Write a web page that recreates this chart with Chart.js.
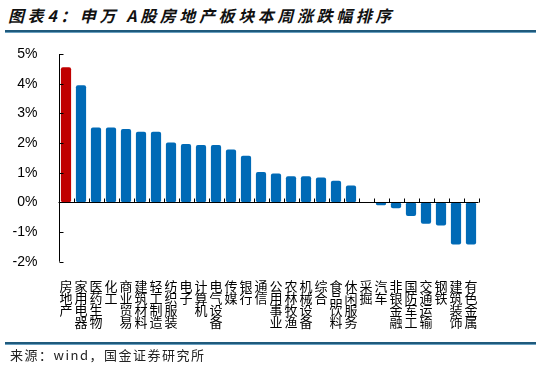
<!DOCTYPE html>
<html><head><meta charset="utf-8">
<script src="https://cdn.jsdelivr.net/npm/chart.js@4/dist/chart.umd.min.js"></script>
<style>
html,body{margin:0;padding:0;background:#fff;width:541px;height:372px;overflow:hidden;}
#wrap{position:relative;width:541px;height:372px;}
canvas{position:absolute;left:0;top:0;}
#title{position:absolute;left:8px;top:3px;font-family:"Noto Sans CJK SC";font-weight:bold;font-style:italic;font-size:16px;letter-spacing:3.6px;color:#111;white-space:nowrap;}
.rule{position:absolute;left:5px;width:531px;height:2px;background:#1f5a7c;border-bottom:1px solid #6aa0c0;}
#source{position:absolute;left:10px;top:345px;font-family:"Noto Sans CJK SC";font-size:13px;letter-spacing:1.5px;color:#222;white-space:nowrap;}
</style></head>
<body><div id="wrap">
<div id="title">图表4：申万 A股房地产板块本周涨跌幅排序</div>
<div class="rule" style="top:30px"></div>
<canvas id="c" width="541" height="372"></canvas>
<div class="rule" style="top:342px"></div>
<div id="source">来源：wind，国金证券研究所</div>
</div>
<script>
const categories = ["房地产","家用电器","医药生物","化工","商业贸易","建筑材料","轻工制造","纺织服装","电子","计算机","电气设备","传媒","银行","通信","公用事业","农林牧渔","机械设备","综合","食品饮料","休闲服务","采掘","汽车","非银金融","国防军工","交通运输","钢铁","建筑装饰","有色金属"];
const weeklyChange = [4.55,3.95,2.52,2.52,2.47,2.38,2.38,2.02,1.97,1.93,1.93,1.78,1.57,1.02,0.97,0.88,0.88,0.84,0.73,0.57,0.0,-0.1,-0.2,-0.46,-0.72,-0.78,-1.42,-1.42];
const yTicks = [-2,-1,0,1,2,3,4,5];
const highlight = "房地产";

const barColors = categories.map(c => c === highlight ? "#C00000" : "#006AB6");

const axisPlugin = {
  id: "axisMarks",
  afterDatasetsDraw(chart) {
    const {ctx, chartArea, scales} = chart;
    const x = scales.x, y = scales.y;
    const y0 = Math.round(y.getPixelForValue(0)) + 0.5;
    const left = chartArea.left, right = chartArea.right;
    ctx.save();
    ctx.strokeStyle = "#000";
    ctx.lineWidth = 1;
    ctx.beginPath();
    const ax = Math.round(left) + 0.5;
    ctx.moveTo(ax, y.getPixelForValue(5));
    ctx.lineTo(ax, y.getPixelForValue(-2));
    yTicks.forEach(v => {
      const py = Math.round(y.getPixelForValue(v)) + 0.5;
      ctx.moveTo(ax, py); ctx.lineTo(ax + 4, py);
    });
    ctx.moveTo(left, y0); ctx.lineTo(right, y0);
    for (let i = 0; i <= categories.length; i++) {
      const px = Math.round(i < categories.length ? x.getPixelForValue(i) - x.width / categories.length / 2 : right) + 0.5;
      ctx.moveTo(px, y0); ctx.lineTo(px, y0 - 4);
    }
    ctx.stroke();
    ctx.restore();
  }
};

new Chart(document.getElementById("c"), {
  type: "bar",
  data: {
    labels: categories.map(c => c.split("")),
    datasets: [{
      data: weeklyChange,
      backgroundColor: barColors,
      borderWidth: 0,
      borderRadius: 2,
      borderSkipped: false,
      barPercentage: 0.68,
      categoryPercentage: 1.0
    }]
  },
  options: {
    responsive: false,
    animation: false,
    devicePixelRatio: 1,
    layout: { padding: { top: 54, right: 62.5, left: 0, bottom: 0 } },
    plugins: { legend: { display: false }, tooltip: { enabled: false } },
    scales: {
      x: {
        grid: { display: false },
        border: { display: false },
        ticks: {
          autoSkip: false, maxRotation: 0, minRotation: 0, padding: 10,
          color: "#000",
          font: { family: "Noto Sans CJK SC", size: 13, lineHeight: "12.2px" }
        },
        afterFit(s) { s.height = 110.3; }
      },
      y: {
        min: -2, max: 5,
        grid: { display: false },
        border: { display: false },
        afterBuildTicks(s) { s.ticks = yTicks.map(v => ({ value: v })); },
        ticks: {
          padding: 13,
          color: "#000",
          font: { family: "Liberation Sans", size: 14 },
          callback: v => v + "%"
        },
        afterFit(s) { s.width = 58.5; }
      }
    }
  },
  plugins: [axisPlugin]
});
</script>
</body></html>
